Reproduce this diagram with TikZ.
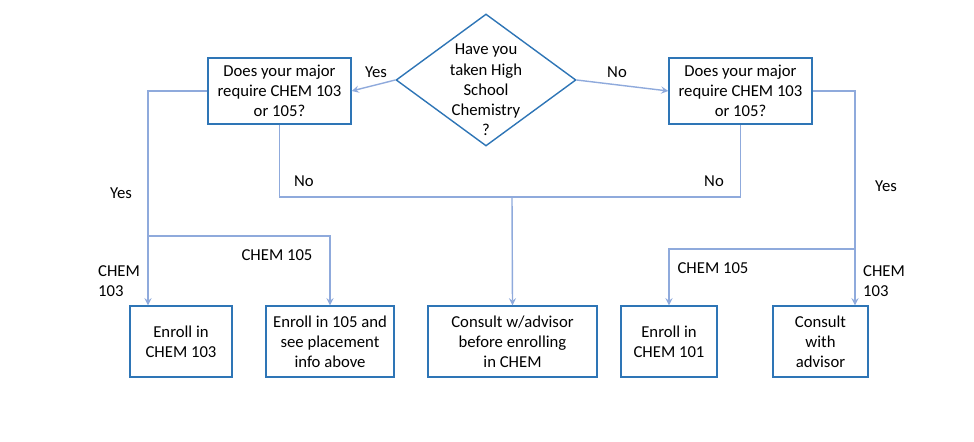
\documentclass[tikz,border=0pt]{standalone}
\usepackage{fontspec}
\setmainfont{Carlito}
\usetikzlibrary{positioning,shapes.geometric,calc}
\definecolor{boxblue}{RGB}{46,117,182}
\definecolor{lineblue}{RGB}{143,170,220}

\begin{document}
\begin{tikzpicture}[x=0.02cm,y=-0.02cm,
	every node/.style={font=\fontsize{9.5}{11.5}\selectfont},
	box/.style={draw=boxblue, thick, align=center, inner sep=1pt},
	link/.style={lineblue, thick},
	arr/.style={lineblue, thick, ->, >=stealth}]
	\useasboundingbox (0,0) rectangle (974,442);

	\node[draw=boxblue, thick, diamond, aspect=1.36, minimum width=3.6cm, minimum height=2.64cm, inner sep=0pt] (q) at (486,80) {};
	\node[align=center] (qt) at (486,90) {Have you\\taken High\\School\\Chemistry\\?};

	\node[box, minimum width=2.86cm, minimum height=1.32cm] (lmaj) at (279.5,91) {Does your major\\require CHEM 103\\or 105?};
	\node[box, minimum width=2.86cm, minimum height=1.32cm] (rmaj) at (740.5,91) {Does your major\\require CHEM 103\\or 105?};

	\node[box, minimum width=2.04cm, minimum height=1.42cm] (e103) at (181,341.5) {Enroll in\\CHEM 103};
	\node[box, minimum width=2.56cm, minimum height=1.42cm] (e105) at (330,341.5) {Enroll in 105 and\\see placement\\info above};
	\node[box, minimum width=3.38cm, minimum height=1.42cm] (cons) at (512.5,341.5) {Consult w/advisor\\before enrolling\\in CHEM};
	\node[box, minimum width=1.92cm, minimum height=1.42cm] (e101) at (669,341.5) {Enroll in\\CHEM 101};
	\node[box, minimum width=1.9cm, minimum height=1.42cm] (adv) at (820.5,341.5) {Consult\\with\\advisor};

	% coordinates for the bends
	\coordinate (lc) at (148,91);
	\coordinate (lb) at (148,236);
	\coordinate (rc) at (855,91);
	\coordinate (rb) at (855,249);
	\coordinate (mid) at (512,197);

	\draw[arr] (q.west) -- (lmaj.east);
	\draw[arr] (q.east) -- (rmaj.west);
	\draw[arr] (lmaj.west) -- (lc) -- (e103.north -| lc);
	\draw[arr] (lb) -| (e105.north);
	\draw[link] (lmaj.south) |- (mid) -| (rmaj.south);
	\draw[arr] (mid) -- (cons.north);
	\draw[arr] (rmaj.east) -- (rc) -- (adv.north -| rc);
	\draw[arr] (rb) -| (e101.north);

	\node (yl) at (376,72) {Yes};
	\node (nr) at (617,72) {No};
	\node (yl2) at (121,193) {Yes};
	\node (nl) at (304,181) {No};
	\node (nr2) at (714,181) {No};
	\node (yr2) at (886,186) {Yes};
	\node (c105l) at (277,255) {CHEM 105};
	\node[align=left] (c103l) at (119,281) {CHEM\\103};
	\node (c105r) at (713,268) {CHEM 105};
	\node[align=left] (c103r) at (884,281) {CHEM\\103};
\end{tikzpicture}
\end{document}
